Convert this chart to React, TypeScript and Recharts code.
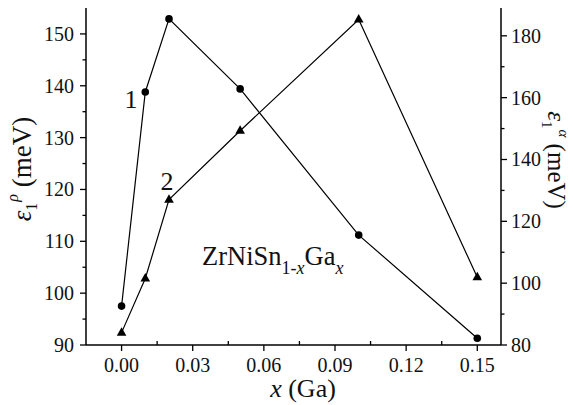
import { LineChart, Line, XAxis, YAxis } from 'recharts';

const xValues = [0, 0.01, 0.02, 0.05, 0.1, 0.15];
const series1 = [97.5, 138.8, 152.9, 139.4, 111.2, 91.3]; // circles, left axis
const series2 = [84.0, 101.5, 127.0, 149.3, 185.3, 101.9]; // triangles, right axis

const xMajorTicks = [0, 0.03, 0.06, 0.09, 0.12, 0.15];
const xMinorTicks = [0.015, 0.045, 0.075, 0.105, 0.135];
const leftMajorTicks = [90, 100, 110, 120, 130, 140, 150];
const leftMinorTicks = [95, 105, 115, 125, 135, 145];
const rightMajorTicks = [80, 100, 120, 140, 160, 180];
const rightMinorTicks = [90, 110, 130, 150, 170];

const data = xValues.map((x, i) => ({ x, s1: series1[i], s2: series2[i] }));

const FONT = "'Liberation Serif', 'Times New Roman', Times, 'DejaVu Serif', serif";
const txt = { fontFamily: FONT };

const isMajorX = (v: number) => xMajorTicks.some(t => Math.abs(t - v) < 1e-6);

const BottomTick = ({ x, y, payload }: any) => {
    const major = isMajorX(payload.value);
    return (
        <g>
            {major ? (
                <>
                    <line x1={x} x2={x} y1={y} y2={y + 6} stroke="#000" strokeWidth={1.3} />
                    <text x={x} y={y + 27} textAnchor="middle" fontSize={20} style={txt} fill="#111">
                        {payload.value.toFixed(2)}
                    </text>
                </>
            ) : (
                <line x1={x} x2={x} y1={y} y2={y - 4} stroke="#000" strokeWidth={1.3} />
            )}
        </g>
    );
};

const TopTick = ({ x, y, payload }: any) => {
    const major = isMajorX(payload.value);
    return <line x1={x} x2={x} y1={y} y2={y + (major ? 6 : 4)} stroke="#000" strokeWidth={1.3} />;
};

const LeftTick = ({ x, y, payload }: any) => {
    const major = leftMajorTicks.includes(payload.value);
    return (
        <g>
            <line x1={x - (major ? 6 : 3.5)} x2={x} y1={y} y2={y} stroke="#000" strokeWidth={1.3} />
            {major && (
                <text x={x - 12} y={y} dy="0.35em" textAnchor="end" fontSize={20} style={txt} fill="#111">
                    {payload.value}
                </text>
            )}
        </g>
    );
};

const RightTick = ({ x, y, payload }: any) => {
    const major = rightMajorTicks.includes(payload.value);
    return (
        <g>
            <line x1={x} x2={x + (major ? 6 : 3.5)} y1={y} y2={y} stroke="#000" strokeWidth={1.3} />
            {major && (
                <text x={x + 10} y={y} dy="0.35em" textAnchor="start" fontSize={20} style={txt} fill="#111">
                    {payload.value}
                </text>
            )}
        </g>
    );
};

const Triangle = ({ cx, cy }: any) => {
    if (cx == null || cy == null) return null;
    return <path d={`M${cx},${cy - 5.5} L${cx + 4.8},${cy + 3} L${cx - 4.8},${cy + 3} Z`} fill="#000" />;
};

export default function App() {
    return (
        <div style={{ position: 'absolute', left: 0, top: 0, width: 573, height: 405, background: '#fff' }}>
            <LineChart width={573} height={405} data={data} margin={{ top: 8, right: 0, bottom: 0, left: 0 }}>
                <XAxis
                    dataKey="x"
                    type="number"
                    xAxisId="bottom"
                    domain={[-0.015, 0.16]}
                    ticks={[...xMajorTicks, ...xMinorTicks]}
                    interval={0}
                    height={60}
                    tickSize={0}
                    tickMargin={0}
                    tickLine={false}
                    tick={<BottomTick />}
                    axisLine={{ stroke: '#000', strokeWidth: 1.5 }}
                    allowDataOverflow
                />
                <XAxis
                    dataKey="x"
                    type="number"
                    xAxisId="top"
                    orientation="top"
                    domain={[-0.015, 0.16]}
                    ticks={[...xMajorTicks, ...xMinorTicks]}
                    interval={0}
                    height={0}
                    tickSize={0}
                    tickMargin={0}
                    tickLine={false}
                    tick={<TopTick />}
                    axisLine={{ stroke: '#000', strokeWidth: 1.5 }}
                    allowDataOverflow
                />
                <YAxis
                    yAxisId="left"
                    type="number"
                    domain={[90, 155]}
                    ticks={[...leftMajorTicks, ...leftMinorTicks]}
                    interval={0}
                    width={86}
                    tickSize={0}
                    tickMargin={0}
                    tickLine={false}
                    tick={<LeftTick />}
                    axisLine={{ stroke: '#000', strokeWidth: 1.5 }}
                    allowDataOverflow
                />
                <YAxis
                    yAxisId="right"
                    orientation="right"
                    type="number"
                    domain={[80, 189]}
                    ticks={[...rightMajorTicks, ...rightMinorTicks]}
                    interval={0}
                    width={72}
                    tickSize={0}
                    tickMargin={0}
                    tickLine={false}
                    tick={<RightTick />}
                    axisLine={{ stroke: '#000', strokeWidth: 1.5 }}
                    allowDataOverflow
                />
                <Line
                    xAxisId="bottom"
                    yAxisId="left"
                    dataKey="s1"
                    type="linear"
                    stroke="#000"
                    strokeWidth={1.2}
                    dot={{ r: 3.8, fill: '#000', stroke: '#000', strokeWidth: 0 }}
                    activeDot={false}
                    isAnimationActive={false}
                />
                <Line
                    xAxisId="bottom"
                    yAxisId="right"
                    dataKey="s2"
                    type="linear"
                    stroke="#000"
                    strokeWidth={1.2}
                    dot={<Triangle />}
                    activeDot={false}
                    isAnimationActive={false}
                />
            </LineChart>
            <svg
                width={573}
                height={405}
                style={{ position: 'absolute', left: 0, top: 0, pointerEvents: 'none', fontFamily: FONT }}
                fill="#111"
            >
                <text x={131} y={108} textAnchor="middle" fontSize={26}>1</text>
                <text x={167} y={190} textAnchor="middle" fontSize={26}>2</text>
                <text x={202} y={265} fontSize={26.5}>
                    ZrNiSn
                    <tspan dy={9} fontSize={18}>1-</tspan>
                    <tspan fontSize={18} fontStyle="italic">x</tspan>
                    <tspan dy={-9}>Ga</tspan>
                    <tspan dy={9} fontSize={18} fontStyle="italic">x</tspan>
                </text>
                <text x={303} y={397} textAnchor="middle" fontSize={26}>
                    <tspan fontStyle="italic">x</tspan> (Ga)
                </text>
                <text x={31} y={169} textAnchor="middle" fontSize={27} transform="rotate(-90 31 169)">
                    <tspan fontStyle="italic">ε</tspan>
                    <tspan dy={6} fontSize={16}>1</tspan>
                    <tspan dy={-19} dx={1} fontSize={16} fontStyle="italic">ρ</tspan>
                    <tspan dy={13}> (meV)</tspan>
                </text>
                <text x={548} y={160} textAnchor="middle" fontSize={25} transform="rotate(90 548 160)">
                    <tspan fontStyle="italic">ε</tspan>
                    <tspan dy={6} fontSize={15}>1</tspan>
                    <tspan dy={-17} dx={1} fontSize={15} fontStyle="italic">α</tspan>
                    <tspan dy={11}> (meV)</tspan>
                </text>
            </svg>
        </div>
    );
}
